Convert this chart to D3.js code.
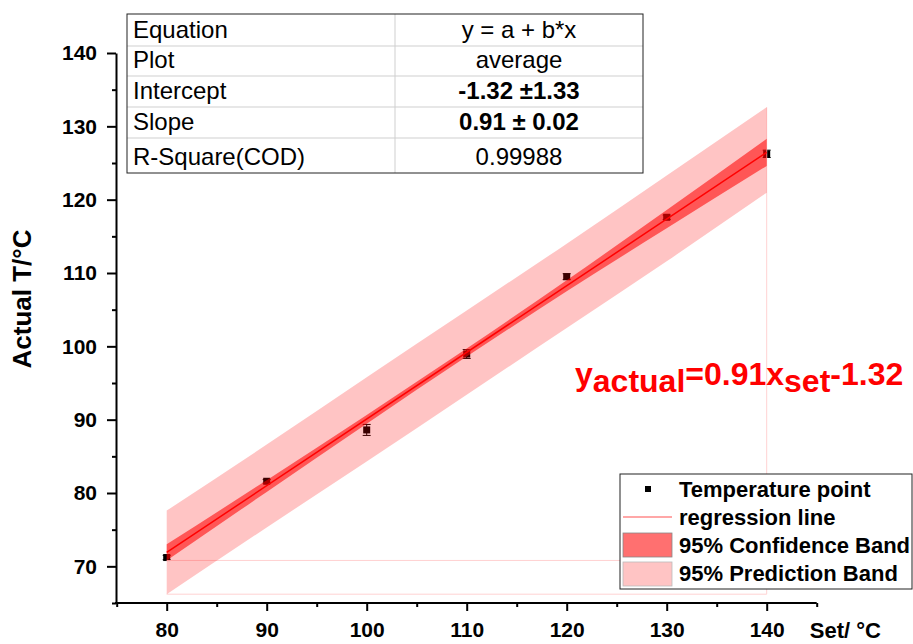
<!DOCTYPE html>
<html>
<head>
<meta charset="utf-8">
<script src="https://cdn.jsdelivr.net/npm/d3@7"></script>
<style>
  body { margin: 0; background: #fff; }
  svg { display: block; font-family: Arial, "Liberation Sans", sans-serif; }
</style>
</head>
<body>
<svg id="chart" width="913" height="644"></svg>
<script>
// measured temperatures (set -> actual), with error bars
var setTemps = [80, 90, 100, 110, 120, 130, 140];
var actualTemps = [71.2, 81.6, 88.6, 98.95, 109.5, 117.6, 126.25];
var actualErr = [0.3, 0.25, 0.75, 0.6, 0.4, 0.3, 0.5];

// fit line end points and band edges
var fitX = [80, 140];
var fitY = [71.9, 126.45];
var confUpper = [73.0, 81.75, 90.65, 99.7, 109.0, 118.6, 128.3];
var confLower = [70.8, 80.15, 89.45, 98.6, 107.5, 116.1, 124.6];
var predUpper = [77.6, 86.6, 95.8, 104.9, 114.0, 123.3, 132.6];
var predLower = [66.2, 75.3, 84.3, 93.4, 102.5, 111.6, 120.95];

// axis ticks
var xMajor = [80, 90, 100, 110, 120, 130, 140];
var xMinor = [75, 85, 95, 105, 115, 125, 135, 145];
var yMajor = [70, 80, 90, 100, 110, 120, 130, 140];
var yMinor = [65, 75, 85, 95, 105, 115, 125, 135];

// fit result table
var tableLabels = ["Equation", "Plot", "Intercept", "Slope", "R-Square(COD)"];
var tableValues = ["y = a + b*x", "average", "-1.32 \u00b11.33", "0.91 \u00b1 0.02", "0.99988"];
var tableBold = [false, false, true, true, false];

var legendItems = ["Temperature point", "regression line", "95% Confidence Band", "95% Prediction Band"];

var svg = d3.select("#chart");

var x = d3.scaleLinear().domain([75, 145]).range([116.7, 816.7]);
var y = d3.scaleLinear().domain([65, 140]).range([603, 53]);

// points first, the bands are see-through and sit on top of them
var pts = svg.append("g");
setTemps.forEach(function (t, i) {
  var cx = x(t), cy = y(actualTemps[i]);
  var y0 = y(actualTemps[i] - actualErr[i]), y1 = y(actualTemps[i] + actualErr[i]);
  pts.append("line").attr("x1", cx).attr("x2", cx).attr("y1", y0).attr("y2", y1)
    .attr("stroke", "#000").attr("stroke-width", 1);
  [y0, y1].forEach(function (yy) {
    pts.append("line").attr("x1", cx - 4).attr("x2", cx + 4).attr("y1", yy).attr("y2", yy)
      .attr("stroke", "#000").attr("stroke-width", 1);
  });
  pts.append("rect").attr("x", cx - 3.5).attr("y", cy - 3.5).attr("width", 7).attr("height", 7)
    .attr("fill", "#000");
});

// outline left over from the band fills
var lastX = setTemps[setTemps.length - 1];
var edge = svg.append("g").attr("stroke", "#ffd2d2").attr("stroke-width", 1);
edge.append("line").attr("x1", x(setTemps[0])).attr("x2", x(lastX))
  .attr("y1", y(confLower[0])).attr("y2", y(confLower[0]));
edge.append("line").attr("x1", x(setTemps[0])).attr("x2", x(lastX))
  .attr("y1", y(predLower[0])).attr("y2", y(predLower[0]));
edge.append("line").attr("x1", x(lastX)).attr("x2", x(lastX))
  .attr("y1", y(predUpper[predUpper.length - 1])).attr("y2", y(predLower[0]));

var predArea = d3.area()
  .x(function (d, i) { return x(setTemps[i]); })
  .y0(function (d, i) { return y(predLower[i]); })
  .y1(function (d, i) { return y(predUpper[i]); })
  .curve(d3.curveMonotoneX);
var confArea = d3.area()
  .x(function (d, i) { return x(setTemps[i]); })
  .y0(function (d, i) { return y(confLower[i]); })
  .y1(function (d, i) { return y(confUpper[i]); })
  .curve(d3.curveMonotoneX);

svg.append("path").datum(setTemps).attr("d", predArea)
  .attr("fill", "rgba(255,0,0,0.23)");
svg.append("path").datum(setTemps).attr("d", confArea)
  .attr("fill", "rgba(255,0,0,0.56)");

svg.append("line")
  .attr("x1", x(fitX[0])).attr("y1", y(fitY[0]))
  .attr("x2", x(fitX[1])).attr("y2", y(fitY[1]))
  .attr("stroke", "#ff0000").attr("stroke-width", 1.5);

// axes
function styleAxis(g) {
  g.select(".domain").attr("stroke", "#000").attr("stroke-width", 2);
  g.selectAll(".tick line").attr("stroke", "#000").attr("stroke-width", 2);
  g.selectAll(".tick text").attr("fill", "#000").style("font-size", "21px")
    .style("font-weight", "bold").style("font-family", "Arial, 'Liberation Sans', sans-serif");
}

var xAxisMinor = svg.append("g").attr("transform", "translate(0,603)")
  .call(d3.axisBottom(x).tickValues(xMinor).tickSize(4).tickSizeOuter(0).tickFormat(""));
styleAxis(xAxisMinor);
xAxisMinor.select(".domain").attr("d", "M115,0H" + x(145));
var xAxis = svg.append("g").attr("transform", "translate(0,603)")
  .call(d3.axisBottom(x).tickValues(xMajor).tickSize(8).tickPadding(11));
styleAxis(xAxis);
xAxis.select(".domain").remove();

var yAxisMinor = svg.append("g").attr("transform", "translate(116,0)")
  .call(d3.axisLeft(y).tickValues(yMinor).tickSize(4).tickSizeOuter(0).tickFormat(""));
styleAxis(yAxisMinor);
var yAxis = svg.append("g").attr("transform", "translate(116,0)")
  .call(d3.axisLeft(y).tickValues(yMajor).tickSize(9).tickPadding(10));
styleAxis(yAxis);
yAxis.select(".domain").remove();

svg.append("text").attr("x", 881).attr("y", 638).attr("text-anchor", "end")
  .style("font-size", "22px").style("font-weight", "bold").text("Set/ \u00b0C");
svg.append("text").attr("transform", "translate(31,299) rotate(-90)").attr("text-anchor", "middle")
  .style("font-size", "26px").style("font-weight", "bold").text("Actual T/\u00b0C");

// fit table
var tb = svg.append("g");
var rowEdges = [14, 46, 76, 107, 138, 173];
var tX0 = 127, tX1 = 643, tMid = 395;
for (var i = 1; i < rowEdges.length - 1; i++) {
  tb.append("line").attr("x1", tX0).attr("x2", tX1).attr("y1", rowEdges[i]).attr("y2", rowEdges[i])
    .attr("stroke", "#cfcfcf").attr("stroke-width", 1);
}
tb.append("line").attr("x1", tMid).attr("x2", tMid).attr("y1", rowEdges[0]).attr("y2", rowEdges[5])
  .attr("stroke", "#cfcfcf").attr("stroke-width", 1);
tb.append("rect").attr("x", tX0).attr("y", rowEdges[0]).attr("width", tX1 - tX0)
  .attr("height", rowEdges[5] - rowEdges[0]).attr("fill", "none").attr("stroke", "#222").attr("stroke-width", 1);
tableLabels.forEach(function (lab, i) {
  var base = rowEdges[i + 1] - 8;
  tb.append("text").attr("x", tX0 + 6).attr("y", base).style("font-size", "24px").text(lab);
  tb.append("text").attr("x", (tMid + tX1) / 2).attr("y", base).attr("text-anchor", "middle")
    .style("font-size", "24px").style("font-weight", tableBold[i] ? "bold" : "normal").text(tableValues[i]);
});

// equation
var eq = svg.append("text").attr("x", 575).attr("y", 385).attr("fill", "#ff0000")
  .style("font-size", "32px").style("font-weight", "bold");
eq.append("tspan").text("y");
eq.append("tspan").attr("dy", 7).text("actual");
eq.append("tspan").attr("dy", -7).text("=0.91x");
eq.append("tspan").attr("dy", 7).text("set");
eq.append("tspan").attr("dy", -7).text("-1.32");

// legend
var lg = svg.append("g");
lg.append("rect").attr("x", 620).attr("y", 474).attr("width", 292).attr("height", 115)
  .attr("fill", "#fff").attr("stroke", "#222").attr("stroke-width", 1);
var rowY = [489, 517, 545, 573];
lg.append("rect").attr("x", 645).attr("y", rowY[0] - 3).attr("width", 6).attr("height", 6).attr("fill", "#000");
lg.append("line").attr("x1", 623).attr("x2", 672).attr("y1", rowY[1]).attr("y2", rowY[1])
  .attr("stroke", "#ff5050").attr("stroke-width", 1.2);
lg.append("rect").attr("x", 623).attr("y", 533).attr("width", 49).attr("height", 24)
  .attr("fill", "rgba(255,0,0,0.56)").attr("stroke", "#888").attr("stroke-width", 0.8);
lg.append("rect").attr("x", 623).attr("y", 562).attr("width", 49).attr("height", 24)
  .attr("fill", "rgba(255,0,0,0.23)").attr("stroke", "#bbb").attr("stroke-width", 0.8);
legendItems.forEach(function (t, i) {
  lg.append("text").attr("x", 679).attr("y", rowY[i] + 8).style("font-size", "22px")
    .style("font-weight", "bold").text(t);
});
</script>
</body>
</html>
